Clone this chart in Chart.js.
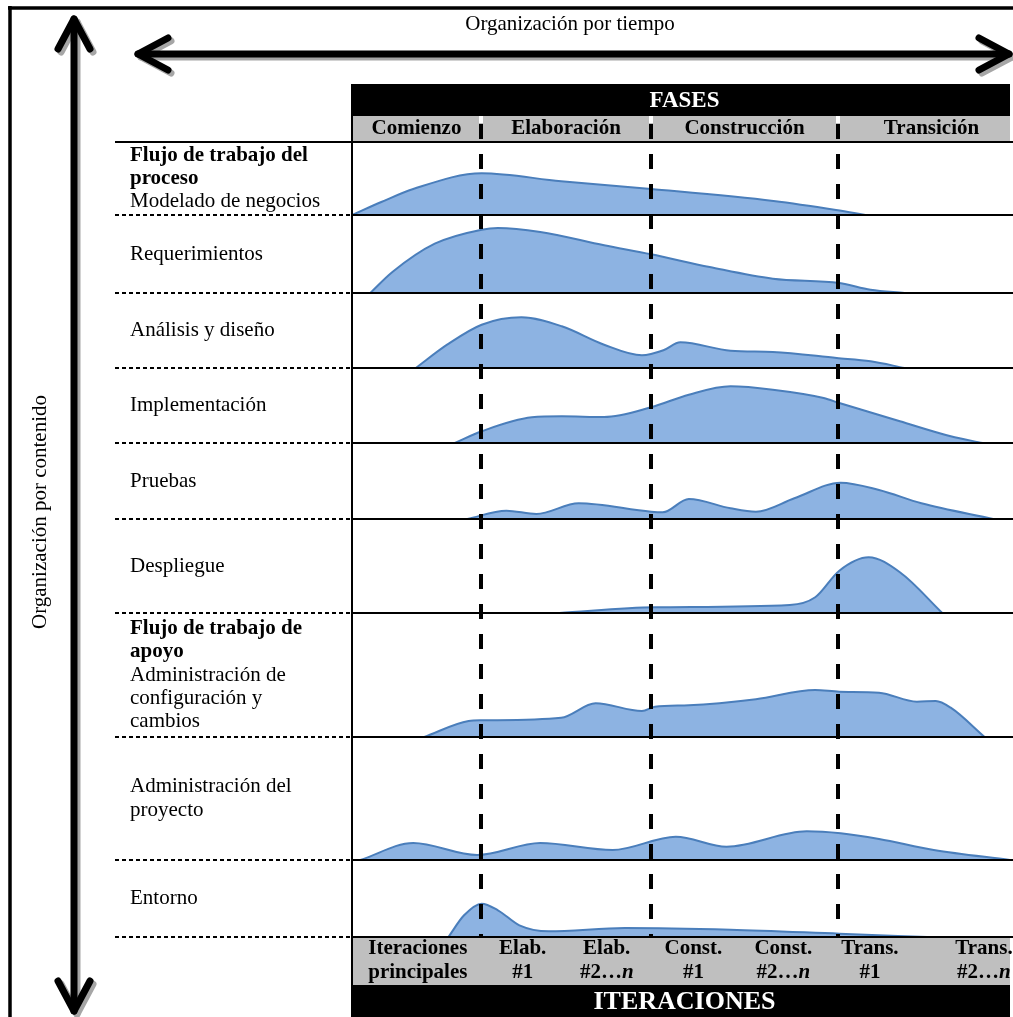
<!DOCTYPE html>
<html lang="es">
<head>
<meta charset="utf-8">
<title>Fases e iteraciones</title>
<script src="https://cdn.jsdelivr.net/npm/chart.js@4.4.1/dist/chart.umd.min.js"></script>
<style>
  html, body { margin: 0; padding: 0; background: #fff; }
  #wrap { width: 1013px; height: 1017px; }
</style>
</head>
<body>
<div id="wrap"><canvas id="chart-rup" width="1013" height="1017"></canvas></div>
<script>
// ── Data ──────────────────────────────────────────────────────────────────────
// Time runs 0..101 across the phase columns; effort is in row units.
const PHASES = ['Comienzo', 'Elaboración', 'Construcción', 'Transición'];
const PHASE_BOUNDS = [19.8, 45.9, 74.6];

const ITERATIONS = [
  ['Iteraciones', 'principales'], ['Elab.', '#1'], ['Elab.', '#2…n'],
  ['Const.', '#1'], ['Const.', '#2…n'], ['Trans.', '#1'], ['Trans.', '#2…n'],
];
const ITERATION_AT = [10.1, 26.2, 39.1, 52.4, 66.2, 79.5, 97.0];

const GROUP_HEADINGS = [['Flujo de trabajo del', 'proceso'], null, null, null, null, null,
  ['Flujo de trabajo de', 'apoyo'], null, null];
const WORKFLOWS = [
  ['Modelado de negocios'], ['Requerimientos'], ['Análisis y diseño'], ['Implementación'],
  ['Pruebas'], ['Despliegue'], ['Administración de', 'configuración y', 'cambios'],
  ['Administración del', 'proyecto'], ['Entorno'],
];

// [time, effort]
const modelado = [[0, 0], [4.5, 13], [9.4, 26], [19.9, 41.7], [32.1, 33.7], [45.9, 26], [64.7, 14], [74.3, 5], [78.8, 0]];
const requerimientos = [[2.8, 0], [6.2, 21], [12.7, 49.3], [19.9, 63.3], [22.4, 65], [28.9, 61], [38.7, 47.7], [45.9, 38.7], [54.9, 26], [64.6, 14.3], [74.8, 10], [79.6, 3.3], [84.8, 0]];
const analisis = [[9.8, 0], [14.6, 23.3], [19.9, 43.3], [26, 50.7], [32.2, 41.7], [38.7, 23.3], [44.5, 12.7], [47.8, 17.7], [50.4, 25.7], [58.1, 17.3], [64.6, 16], [74.4, 10], [79.6, 6.7], [84.8, 0]];
const implementacion = [[15.8, 0], [19.9, 11.7], [27.6, 25.7], [32.2, 26.7], [38.7, 26], [45.9, 35.7], [51.7, 48.3], [58.1, 56.7], [64.6, 53.3], [72.4, 45], [74.8, 40], [84.1, 21.7], [91.9, 6.7], [96.8, 0]];
const pruebas = [[17.7, 0], [23.7, 8.3], [28.3, 5], [34.8, 15.7], [45.9, 7.3], [47.7, 6.7], [51.7, 20], [58.1, 10.7], [62, 7.3], [67.9, 20.7], [75, 36.3], [80.9, 29], [87.4, 15.7], [98.4, 0]];
const despliegue = [[31.8, 0], [46.5, 5.7], [67.2, 8], [71.1, 15.7], [74.8, 42.3], [79.3, 55.7], [84.1, 40.7], [90.6, 0]];
const configuracion = [[11.1, 0], [17.9, 16], [19.9, 16.7], [32.1, 19.3], [37.4, 33.7], [44.5, 26], [46.5, 30.3], [51.7, 31.7], [62, 37.7], [71.1, 47], [74.8, 45.3], [80.9, 44.3], [86.7, 35.3], [89.6, 36], [91.9, 29.3], [97.1, 0]];
const proyecto = [[1.3, 0], [9.4, 17], [19.2, 5], [28.9, 17], [40, 10], [49.7, 23.3], [57.5, 13.3], [69.8, 28.7], [75, 26.7], [80.9, 21], [89.3, 10], [101, 0]];
const entorno = [[14.8, 0], [17.2, 21.7], [19.9, 33.3], [22.4, 26.7], [25.7, 11.7], [30.2, 5.7], [41.9, 9], [58.1, 7.3], [74.8, 3.3], [88.3, 0]];

const EFFORT = [modelado, requerimientos, analisis, implementacion, pruebas, despliegue, configuracion, proyecto, entorno];

// ── Look ──────────────────────────────────────────────────────────────────────
const ROW_WEIGHT = [73, 78, 75, 75, 76, 94, 124, 123, 77];   // relative row heights
const SERIF = "'Liberation Serif', 'Times New Roman', serif";
const INK = '#000';
const BAR_GRAY = '#bfbfbf';
const HUMP_FILL = '#8db3e2';
const HUMP_LINE = '#4a7ebb';
const TABLE_RIGHT = 1017;

function line(ctx, x1, y1, x2, y2) {
  ctx.beginPath();
  ctx.moveTo(x1, y1);
  ctx.lineTo(x2, y2);
  ctx.stroke();
}

function doubleArrow(ctx, x1, y1, x2, y2, color) {
  const ang = Math.atan2(y2 - y1, x2 - x1);
  const headLen = 30, spread = 16;
  ctx.strokeStyle = color;
  ctx.lineWidth = 7;
  ctx.lineCap = 'round';
  ctx.lineJoin = 'round';
  line(ctx, x1, y1, x2, y2);
  [[x1, y1, ang], [x2, y2, ang + Math.PI]].forEach(([tx, ty, a]) => {
    const bx = tx + Math.cos(a) * headLen, by = ty + Math.sin(a) * headLen;
    const nx = -Math.sin(a) * spread, ny = Math.cos(a) * spread;
    ctx.beginPath();
    ctx.moveTo(bx + nx, by + ny);
    ctx.lineTo(tx, ty);
    ctx.lineTo(bx - nx, by - ny);
    ctx.stroke();
  });
}

// "#2…n" has an italic n
function iterText(ctx, str, cx, y) {
  const bold = `bold 21px ${SERIF}`, ital = `italic bold 21px ${SERIF}`;
  if (str.endsWith('…n')) {
    const head = str.slice(0, -1);
    ctx.font = bold;
    const w1 = ctx.measureText(head).width;
    ctx.font = ital;
    const w2 = ctx.measureText('n').width;
    const sx = cx - (w1 + w2) / 2;
    ctx.textAlign = 'left';
    ctx.font = bold;
    ctx.fillText(head, sx, y);
    ctx.font = ital;
    ctx.fillText('n', sx + w1, y);
  } else {
    ctx.font = bold;
    ctx.textAlign = 'center';
    ctx.fillText(str, cx, y);
  }
}

const rupFrame = {
  id: 'rupFrame',
  beforeDraw(chart) {
    const { ctx, chartArea: a } = chart;
    ctx.save();
    ctx.fillStyle = '#fff';
    ctx.fillRect(0, 0, chart.width, chart.height);
    ctx.fillStyle = INK;
    ctx.fillRect(a.left, 84, a.right - a.left, 32);
    ctx.fillStyle = BAR_GRAY;
    ctx.fillRect(a.left, 116, a.right - a.left, 26);
    ctx.fillRect(a.left, a.bottom, a.right - a.left, 48);
    ctx.fillStyle = INK;
    ctx.fillRect(a.left, a.bottom + 48, a.right - a.left, chart.height - a.bottom - 48);
    ctx.restore();
  },
  afterDatasetsDraw(chart) {
    const { ctx, chartArea: a, scales } = chart;
    const xs = scales.x;
    const rows = ROW_WEIGHT.map((_, i) => scales['r' + i]);
    ctx.save();

    // row rules: solid in the phase area, dotted under the labels
    ctx.strokeStyle = INK;
    ctx.lineWidth = 2;
    const rules = [a.top, ...rows.map(s => s.bottom)];
    rules.forEach((y, i) => {
      line(ctx, a.left, y, chart.width, y);
      ctx.setLineDash(i === 0 ? [] : [4, 3]);
      line(ctx, 115, y, a.left, y);
      ctx.setLineDash([]);
    });
    line(ctx, a.left, 84, a.left, chart.height);

    // phase boundaries
    PHASE_BOUNDS.forEach(t => {
      const px = Math.round(xs.getPixelForValue(t));
      ctx.lineWidth = 4;
      ctx.strokeStyle = '#fff';
      line(ctx, px, 116, px, 123);
      ctx.strokeStyle = INK;
      ctx.setLineDash([15, 15]);
      line(ctx, px, 124, px, a.bottom);
      ctx.setLineDash([]);
    });

    ctx.textBaseline = 'middle';
    // headers
    const mid = (a.left + TABLE_RIGHT) / 2;
    ctx.fillStyle = '#fff';
    ctx.textAlign = 'center';
    ctx.font = `bold 23px ${SERIF}`;
    ctx.fillText('FASES', mid, 101);
    ctx.font = `bold 26px ${SERIF}`;
    ctx.fillText('ITERACIONES', mid, 1002);

    ctx.fillStyle = INK;
    ctx.font = `bold 21px ${SERIF}`;
    const edges = [a.left, ...PHASE_BOUNDS.map(t => xs.getPixelForValue(t)), TABLE_RIGHT + 8];
    PHASES.forEach((p, i) => ctx.fillText(p, (edges[i] + edges[i + 1]) / 2, 129));

    ITERATIONS.forEach((lines, i) => {
      const cx = xs.getPixelForValue(ITERATION_AT[i]);
      lines.forEach((s, k) => iterText(ctx, s, cx, a.bottom + 12 + k * 24));
    });

    // row labels
    ctx.textAlign = 'left';
    const lh = 23.3;
    rows.forEach((s, i) => {
      const lines = [...(GROUP_HEADINGS[i] || []).map(t => [t, true]), ...WORKFLOWS[i].map(t => [t, false])];
      const y0 = (s.top + s.bottom) / 2 - (lines.length - 1) * lh / 2;
      lines.forEach(([t, b], k) => {
        ctx.font = `${b ? 'bold ' : ''}21px ${SERIF}`;
        ctx.fillText(t, 130, y0 + k * lh);
      });
    });

    // axis titles
    ctx.font = `21px ${SERIF}`;
    ctx.textAlign = 'center';
    ctx.fillText('Organización por tiempo', 570, 24);
    ctx.save();
    ctx.translate(40, 512);
    ctx.rotate(-Math.PI / 2);
    ctx.fillText('Organización por contenido', 0, 0);
    ctx.restore();

    // arrows with their drop shadow
    ctx.save();
    ctx.translate(3, 3);
    doubleArrow(ctx, 74, 19, 74, 1011, '#a6a6a6');
    doubleArrow(ctx, 138, 54, 1009, 54, '#a6a6a6');
    ctx.restore();
    doubleArrow(ctx, 74, 19, 74, 1011, INK);
    doubleArrow(ctx, 138, 54, 1009, 54, INK);

    // outer frame
    ctx.lineCap = 'butt';
    ctx.lineWidth = 3.5;
    ctx.strokeStyle = INK;
    line(ctx, 8, 8, chart.width, 8);
    line(ctx, 10, 6, 10, chart.height);
    ctx.restore();
  },
};

// ── Chart ─────────────────────────────────────────────────────────────────────
const scales = { x: { type: 'linear', min: 0, max: 101, display: false } };
ROW_WEIGHT.forEach((w, i) => {
  scales['r' + i] = { type: 'linear', position: 'right', stack: 'rows', stackWeight: w, min: 0, max: w, display: false };
});

const datasets = EFFORT.map((pts, i) => ({
  label: WORKFLOWS[i].join(' '),
  data: pts.map(([t, e]) => ({ x: t, y: e })),
  yAxisID: 'r' + i,
  fill: 'origin',
  backgroundColor: HUMP_FILL,
  borderColor: HUMP_LINE,
  borderWidth: 2,
  pointRadius: 0,
  cubicInterpolationMode: 'monotone',
}));

new Chart(document.getElementById('chart-rup').getContext('2d'), {
  type: 'line',
  data: { datasets },
  options: {
    responsive: false,
    animation: false,
    events: [],
    layout: { padding: { left: 352, right: 3, top: 142, bottom: 80 } },
    plugins: { legend: { display: false }, tooltip: { enabled: false } },
    scales,
  },
  plugins: [rupFrame],
});
</script>
</body>
</html>
